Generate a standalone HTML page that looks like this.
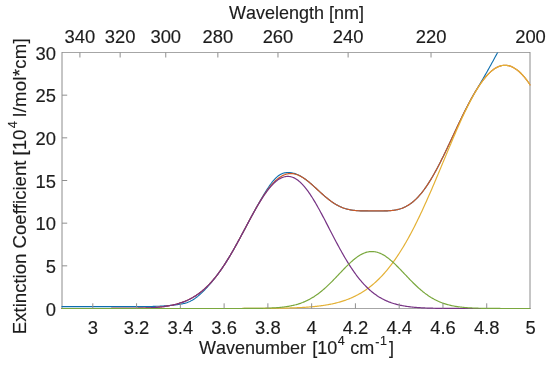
<!DOCTYPE html>
<html><head><meta charset="utf-8"><style>
html,body{margin:0;padding:0;background:#fff;}
svg{display:block;will-change:transform;}
text{font-family:"Liberation Sans",sans-serif;font-size:18px;fill:#1c1c1c;stroke:#1c1c1c;stroke-width:0.15px;font-kerning:none;font-variant-ligatures:none;}
.t text{font-size:18.4px;}
</style></head><body>
<svg width="550" height="365" viewBox="0 0 550 365">
<defs><clipPath id="c"><rect x="58.5" y="52.5" width="472.0" height="259.0"/></clipPath></defs>
<rect x="0" y="0" width="550" height="365" fill="#fff"/>
<path d="M62,52.5H530M62,308.5H530" stroke="#a6a6a6" stroke-width="1" fill="none"/><path d="M62,52.0V309.0M530,52.0V309.0" stroke="#8c8c8c" stroke-width="1" fill="none"/>
<g fill="none" stroke-width="1.2" stroke-linejoin="round" clip-path="url(#c)">
<polyline points="61.50,306.62 62.28,306.62 63.07,306.62 63.85,306.62 64.63,306.62 65.41,306.62 66.20,306.62 66.98,306.62 67.76,306.62 68.55,306.62 69.33,306.62 70.11,306.62 70.90,306.62 71.68,306.62 72.46,306.62 73.24,306.62 74.03,306.62 74.81,306.62 75.59,306.62 76.38,306.62 77.16,306.62 77.94,306.62 78.73,306.62 79.51,306.62 80.29,306.62 81.07,306.62 81.86,306.62 82.64,306.62 83.42,306.62 84.21,306.62 84.99,306.62 85.77,306.62 86.56,306.62 87.34,306.62 88.12,306.62 88.90,306.62 89.69,306.62 90.47,306.62 91.25,306.62 92.04,306.62 92.82,306.62 93.60,306.62 94.38,306.62 95.17,306.62 95.95,306.62 96.73,306.62 97.52,306.62 98.30,306.62 99.08,306.62 99.87,306.62 100.65,306.62 101.43,306.62 102.21,306.62 103.00,306.62 103.78,306.62 104.56,306.62 105.35,306.62 106.13,306.62 106.91,306.62 107.70,306.62 108.48,306.62 109.26,306.62 110.04,306.62 110.83,306.62 111.61,306.62 112.39,306.62 113.18,306.62 113.96,306.62 114.74,306.62 115.53,306.62 116.31,306.62 117.09,306.62 117.87,306.62 118.66,306.62 119.44,306.62 120.22,306.62 121.01,306.62 121.79,306.62 122.57,306.62 123.35,306.62 124.14,306.62 124.92,306.62 125.70,306.62 126.49,306.62 127.27,306.62 128.05,306.62 128.84,306.62 129.62,306.62 130.40,306.62 131.18,306.62 131.97,306.62 132.75,306.61 133.53,306.61 134.32,306.61 135.10,306.61 135.88,306.61 136.67,306.61 137.45,306.60 138.23,306.60 139.01,306.60 139.80,306.60 140.58,306.59 141.36,306.59 142.15,306.58 142.93,306.58 143.71,306.57 144.49,306.57 145.28,306.56 146.06,306.55 146.84,306.54 147.63,306.53 148.41,306.52 149.19,306.51 149.98,306.49 150.76,306.48 151.54,306.46 152.32,306.44 153.11,306.42 153.89,306.40 154.67,306.38 155.46,306.35 156.24,306.32 157.02,306.29 157.81,306.26 158.59,306.22 159.37,306.19 160.15,306.15 160.94,306.10 161.72,306.06 162.50,306.01 163.29,305.96 164.07,305.90 164.85,305.85 165.64,305.79 166.42,305.73 167.20,305.67 167.98,305.60 168.77,305.54 169.55,305.47 170.33,305.40 171.12,305.33 171.90,305.25 172.68,305.18 173.46,305.10 174.25,305.02 175.03,304.93 175.81,304.85 176.60,304.76 177.38,304.66 178.16,304.56 178.95,304.45 179.73,304.33 180.51,304.20 181.29,304.06 182.08,303.91 182.86,303.75 183.64,303.57 184.43,303.37 185.21,303.15 185.99,302.92 186.78,302.66 187.56,302.38 188.34,302.07 189.12,301.75 189.91,301.39 190.69,301.01 191.47,300.60 192.26,300.16 193.04,299.70 193.82,299.20 194.61,298.68 195.39,298.14 196.17,297.56 196.95,296.96 197.74,296.34 198.52,295.69 199.30,295.02 200.09,294.32 200.87,293.61 201.65,292.88 202.43,292.12 203.22,291.35 204.00,290.56 204.78,289.76 205.57,288.94 206.35,288.11 207.13,287.26 207.92,286.39 208.70,285.51 209.48,284.62 210.26,283.72 211.05,282.80 211.83,281.86 212.61,280.91 213.40,279.95 214.18,278.98 214.96,277.98 215.75,276.98 216.53,275.95 217.31,274.91 218.09,273.86 218.88,272.79 219.66,271.70 220.44,270.59 221.23,269.47 222.01,268.33 222.79,267.18 223.58,266.00 224.36,264.81 225.14,263.61 225.92,262.38 226.71,261.14 227.49,259.89 228.27,258.61 229.06,257.33 229.84,256.02 230.62,254.70 231.40,253.37 232.19,252.03 232.97,250.67 233.75,249.29 234.54,247.91 235.32,246.51 236.10,245.11 236.89,243.69 237.67,242.26 238.45,240.83 239.23,239.39 240.02,237.94 240.80,236.48 241.58,235.02 242.37,233.55 243.15,232.08 243.93,230.61 244.72,229.13 245.50,227.65 246.28,226.18 247.06,224.70 247.85,223.23 248.63,221.75 249.41,220.29 250.20,218.82 250.98,217.36 251.76,215.91 252.55,214.46 253.33,213.02 254.11,211.58 254.89,210.16 255.68,208.74 256.46,207.33 257.24,205.94 258.03,204.55 258.81,203.17 259.59,201.80 260.37,200.45 261.16,199.10 261.94,197.77 262.72,196.45 263.51,195.14 264.29,193.85 265.07,192.58 265.86,191.32 266.64,190.08 267.42,188.87 268.20,187.68 268.99,186.52 269.77,185.38 270.55,184.28 271.34,183.22 272.12,182.20 272.90,181.22 273.69,180.28 274.47,179.40 275.25,178.56 276.03,177.78 276.82,177.06 277.60,176.39 278.38,175.77 279.17,175.22 279.95,174.72 280.73,174.27 281.52,173.89 282.30,173.55 283.08,173.26 283.86,173.03 284.65,172.84 285.43,172.69 286.21,172.58 287.00,172.51 287.78,172.48 288.56,172.48 289.34,172.52 290.13,172.58 290.91,172.68 291.69,172.81 292.48,172.97 293.26,173.16 294.04,173.37 294.83,173.61 295.61,173.88 296.39,174.17 297.17,174.48 297.96,174.83 298.74,175.19 299.52,175.59 300.31,176.00 301.09,176.45 301.87,176.91 302.66,177.40 303.44,177.91 304.22,178.44 305.00,178.99 305.79,179.56 306.57,180.15 307.35,180.76 308.14,181.38 308.92,182.02 309.70,182.67 310.48,183.34 311.27,184.02 312.05,184.71 312.83,185.40 313.62,186.11 314.40,186.82 315.18,187.54 315.97,188.26 316.75,188.98 317.53,189.70 318.31,190.42 319.10,191.15 319.88,191.87 320.66,192.58 321.45,193.29 322.23,194.00 323.01,194.70 323.80,195.38 324.58,196.07 325.36,196.74 326.14,197.40 326.93,198.04 327.71,198.68 328.49,199.30 329.28,199.91 330.06,200.50 330.84,201.08 331.63,201.64 332.41,202.18 333.19,202.71 333.97,203.22 334.76,203.72 335.54,204.19 336.32,204.65 337.11,205.09 337.89,205.51 338.67,205.91 339.45,206.29 340.24,206.66 341.02,207.01 341.80,207.34 342.59,207.65 343.37,207.94 344.15,208.21 344.94,208.47 345.72,208.71 346.50,208.94 347.28,209.15 348.07,209.34 348.85,209.52 349.63,209.69 350.42,209.84 351.20,209.98 351.98,210.10 352.77,210.22 353.55,210.32 354.33,210.41 355.11,210.49 355.90,210.56 356.68,210.62 357.46,210.68 358.25,210.73 359.03,210.77 359.81,210.80 360.60,210.83 361.38,210.85 362.16,210.87 362.94,210.89 363.73,210.90 364.51,210.91 365.29,210.91 366.08,210.92 366.86,210.92 367.64,210.92 368.42,210.93 369.21,210.93 369.99,210.93 370.77,210.93 371.56,210.93 372.34,210.93 373.12,210.93 373.91,210.93 374.69,210.93 375.47,210.93 376.25,210.94 377.04,210.94 377.82,210.94 378.60,210.94 379.39,210.94 380.17,210.94 380.95,210.94 381.74,210.94 382.52,210.93 383.30,210.93 384.08,210.92 384.87,210.90 385.65,210.88 386.43,210.86 387.22,210.83 388.00,210.79 388.78,210.75 389.57,210.70 390.35,210.64 391.13,210.57 391.91,210.49 392.70,210.40 393.48,210.30 394.26,210.19 395.05,210.06 395.83,209.92 396.61,209.77 397.39,209.59 398.18,209.41 398.96,209.20 399.74,208.98 400.53,208.74 401.31,208.47 402.09,208.19 402.88,207.89 403.66,207.56 404.44,207.21 405.22,206.84 406.01,206.44 406.79,206.02 407.57,205.58 408.36,205.11 409.14,204.61 409.92,204.09 410.71,203.53 411.49,202.95 412.27,202.35 413.05,201.71 413.84,201.05 414.62,200.35 415.40,199.63 416.19,198.88 416.97,198.10 417.75,197.29 418.54,196.45 419.32,195.58 420.10,194.68 420.88,193.75 421.67,192.79 422.45,191.81 423.23,190.79 424.02,189.75 424.80,188.67 425.58,187.57 426.36,186.44 427.15,185.28 427.93,184.10 428.71,182.89 429.50,181.65 430.28,180.39 431.06,179.10 431.85,177.79 432.63,176.45 433.41,175.09 434.19,173.71 434.98,172.30 435.76,170.88 436.54,169.43 437.33,167.97 438.11,166.48 438.89,164.98 439.68,163.46 440.46,161.92 441.24,160.37 442.02,158.81 442.81,157.23 443.59,155.64 444.37,154.03 445.16,152.42 445.94,150.79 446.72,149.16 447.51,147.51 448.29,145.86 449.07,144.21 449.85,142.55 450.64,140.88 451.42,139.21 452.20,137.54 452.99,135.87 453.77,134.20 454.55,132.53 455.33,130.86 456.12,129.19 456.90,127.53 457.68,125.87 458.47,124.21 459.25,122.57 460.03,120.93 460.82,119.29 461.60,117.67 462.38,116.06 463.16,114.46 463.95,112.87 464.73,111.30 465.51,109.73 466.30,108.19 467.08,106.66 467.86,105.14 468.65,103.65 469.43,102.17 470.21,100.71 470.99,99.27 471.78,97.85 472.56,96.45 473.34,95.07 474.13,93.72 474.91,92.39 475.69,91.09 476.47,89.80 477.26,88.50 478.04,87.20 478.82,85.88 479.61,84.56 480.39,83.24 481.17,81.90 481.96,80.56 482.74,79.22 483.52,77.87 484.30,76.51 485.09,75.14 485.87,73.77 486.65,72.40 487.44,71.01 488.22,69.62 489.00,68.23 489.79,66.83 490.57,65.42 491.35,64.00 492.13,62.58 492.92,61.15 493.70,59.72 494.48,58.28 495.27,56.83 496.05,55.38 496.83,53.92 497.62,52.46 498.40,50.98 499.18,49.51 499.96,48.02 500.75,46.53 501.53,45.03 502.31,43.53 503.10,42.02 503.88,40.50 504.66,38.98 505.44,37.45 506.23,35.92 507.01,34.37 507.79,32.83 508.58,31.27 509.36,29.71 510.14,28.14 510.93,26.57 511.71,24.99 512.49,23.41 513.27,21.81 514.06,20.21 514.84,18.61 515.62,17.00 516.41,15.38 517.19,13.76 517.97,12.13 518.76,10.49 519.54,8.85 520.32,7.20 521.10,5.54 521.89,3.88 522.67,2.21 523.45,0.54 524.24,-1.14 525.02,-2.83 525.80,-4.53 526.59,-6.23 527.37,-7.93 528.15,-9.64 528.93,-11.36 529.72,-13.09 530.50,-14.82" stroke="#0d6eae" stroke-width="1.1"/>
<polyline points="61.50,308.50 62.28,308.50 63.07,308.50 63.85,308.50 64.63,308.50 65.41,308.50 66.20,308.50 66.98,308.50 67.76,308.50 68.55,308.50 69.33,308.50 70.11,308.50 70.90,308.50 71.68,308.50 72.46,308.50 73.24,308.50 74.03,308.50 74.81,308.50 75.59,308.50 76.38,308.50 77.16,308.50 77.94,308.50 78.73,308.50 79.51,308.50 80.29,308.50 81.07,308.50 81.86,308.50 82.64,308.50 83.42,308.50 84.21,308.50 84.99,308.50 85.77,308.50 86.56,308.50 87.34,308.50 88.12,308.50 88.90,308.50 89.69,308.50 90.47,308.50 91.25,308.50 92.04,308.50 92.82,308.50 93.60,308.50 94.38,308.50 95.17,308.50 95.95,308.49 96.73,308.49 97.52,308.49 98.30,308.49 99.08,308.49 99.87,308.49 100.65,308.49 101.43,308.49 102.21,308.49 103.00,308.49 103.78,308.49 104.56,308.49 105.35,308.49 106.13,308.48 106.91,308.48 107.70,308.48 108.48,308.48 109.26,308.48 110.04,308.48 110.83,308.48 111.61,308.47 112.39,308.47 113.18,308.47 113.96,308.47 114.74,308.47 115.53,308.46 116.31,308.46 117.09,308.46 117.87,308.45 118.66,308.45 119.44,308.45 120.22,308.44 121.01,308.44 121.79,308.43 122.57,308.43 123.35,308.42 124.14,308.42 124.92,308.41 125.70,308.40 126.49,308.40 127.27,308.39 128.05,308.38 128.84,308.37 129.62,308.36 130.40,308.36 131.18,308.34 131.97,308.33 132.75,308.32 133.53,308.31 134.32,308.30 135.10,308.28 135.88,308.27 136.67,308.25 137.45,308.24 138.23,308.22 139.01,308.20 139.80,308.18 140.58,308.16 141.36,308.14 142.15,308.11 142.93,308.09 143.71,308.06 144.49,308.03 145.28,308.01 146.06,307.97 146.84,307.94 147.63,307.91 148.41,307.87 149.19,307.83 149.98,307.79 150.76,307.75 151.54,307.70 152.32,307.65 153.11,307.60 153.89,307.55 154.67,307.49 155.46,307.43 156.24,307.37 157.02,307.30 157.81,307.23 158.59,307.16 159.37,307.09 160.15,307.01 160.94,306.92 161.72,306.83 162.50,306.74 163.29,306.64 164.07,306.54 164.85,306.43 165.64,306.32 166.42,306.20 167.20,306.08 167.98,305.95 168.77,305.82 169.55,305.68 170.33,305.53 171.12,305.38 171.90,305.22 172.68,305.05 173.46,304.88 174.25,304.69 175.03,304.50 175.81,304.30 176.60,304.10 177.38,303.88 178.16,303.66 178.95,303.43 179.73,303.18 180.51,302.93 181.29,302.67 182.08,302.39 182.86,302.11 183.64,301.82 184.43,301.51 185.21,301.19 185.99,300.87 186.78,300.53 187.56,300.17 188.34,299.81 189.12,299.43 189.91,299.03 190.69,298.63 191.47,298.21 192.26,297.77 193.04,297.33 193.82,296.86 194.61,296.38 195.39,295.89 196.17,295.38 196.95,294.85 197.74,294.31 198.52,293.75 199.30,293.18 200.09,292.58 200.87,291.97 201.65,291.35 202.43,290.70 203.22,290.04 204.00,289.35 204.78,288.65 205.57,287.93 206.35,287.20 207.13,286.44 207.92,285.66 208.70,284.87 209.48,284.05 210.26,283.22 211.05,282.36 211.83,281.49 212.61,280.60 213.40,279.68 214.18,278.75 214.96,277.79 215.75,276.82 216.53,275.83 217.31,274.81 218.09,273.78 218.88,272.73 219.66,271.66 220.44,270.57 221.23,269.46 222.01,268.33 222.79,267.18 223.58,266.01 224.36,264.83 225.14,263.62 225.92,262.40 226.71,261.17 227.49,259.91 228.27,258.64 229.06,257.35 229.84,256.05 230.62,254.73 231.40,253.40 232.19,252.05 232.97,250.69 233.75,249.32 234.54,247.94 235.32,246.54 236.10,245.13 236.89,243.72 237.67,242.29 238.45,240.85 239.23,239.41 240.02,237.96 240.80,236.50 241.58,235.04 242.37,233.57 243.15,232.10 243.93,230.63 244.72,229.16 245.50,227.68 246.28,226.20 247.06,224.73 247.85,223.26 248.63,221.79 249.41,220.32 250.20,218.86 250.98,217.40 251.76,215.96 252.55,214.52 253.33,213.09 254.11,211.67 254.89,210.26 255.68,208.87 256.46,207.49 257.24,206.12 258.03,204.77 258.81,203.43 259.59,202.12 260.37,200.82 261.16,199.54 261.94,198.29 262.72,197.05 263.51,195.84 264.29,194.65 265.07,193.49 265.86,192.36 266.64,191.25 267.42,190.16 268.20,189.11 268.99,188.09 269.77,187.09 270.55,186.13 271.34,185.20 272.12,184.30 272.90,183.43 273.69,182.60 274.47,181.80 275.25,181.04 276.03,180.31 276.82,179.62 277.60,178.96 278.38,178.34 279.17,177.76 279.95,177.21 280.73,176.70 281.52,176.23 282.30,175.80 283.08,175.40 283.86,175.04 284.65,174.72 285.43,174.44 286.21,174.19 287.00,173.99 287.78,173.82 288.56,173.68 289.34,173.59 290.13,173.54 290.91,173.52 291.69,173.54 292.48,173.60 293.26,173.70 294.04,173.83 294.83,174.00 295.61,174.21 296.39,174.44 297.17,174.71 297.96,175.02 298.74,175.35 299.52,175.72 300.31,176.11 301.09,176.53 301.87,176.98 302.66,177.46 303.44,177.95 304.22,178.48 305.00,179.02 305.79,179.59 306.57,180.18 307.35,180.78 308.14,181.40 308.92,182.04 309.70,182.69 310.48,183.36 311.27,184.03 312.05,184.72 312.83,185.42 313.62,186.12 314.40,186.83 315.18,187.55 315.97,188.27 316.75,188.99 317.53,189.72 318.31,190.44 319.10,191.16 319.88,191.88 320.66,192.60 321.45,193.31 322.23,194.01 323.01,194.71 323.80,195.40 324.58,196.08 325.36,196.75 326.14,197.41 326.93,198.06 327.71,198.69 328.49,199.32 329.28,199.92 330.06,200.52 330.84,201.09 331.63,201.66 332.41,202.20 333.19,202.73 333.97,203.24 334.76,203.73 335.54,204.21 336.32,204.67 337.11,205.11 337.89,205.53 338.67,205.93 339.45,206.31 340.24,206.68 341.02,207.02 341.80,207.35 342.59,207.66 343.37,207.96 344.15,208.23 344.94,208.49 345.72,208.73 346.50,208.96 347.28,209.17 348.07,209.36 348.85,209.54 349.63,209.71 350.42,209.86 351.20,210.00 351.98,210.12 352.77,210.23 353.55,210.34 354.33,210.43 355.11,210.51 355.90,210.58 356.68,210.64 357.46,210.70 358.25,210.74 359.03,210.78 359.81,210.82 360.60,210.85 361.38,210.87 362.16,210.89 362.94,210.91 363.73,210.92 364.51,210.93 365.29,210.93 366.08,210.94 366.86,210.94 367.64,210.94 368.42,210.94 369.21,210.94 369.99,210.94 370.77,210.94 371.56,210.95 372.34,210.95 373.12,210.95 373.91,210.95 374.69,210.95 375.47,210.95 376.25,210.95 377.04,210.96 377.82,210.96 378.60,210.96 379.39,210.96 380.17,210.96 380.95,210.96 381.74,210.96 382.52,210.95 383.30,210.94 384.08,210.93 384.87,210.92 385.65,210.90 386.43,210.88 387.22,210.85 388.00,210.81 388.78,210.77 389.57,210.72 390.35,210.66 391.13,210.59 391.91,210.51 392.70,210.42 393.48,210.32 394.26,210.21 395.05,210.08 395.83,209.94 396.61,209.78 397.39,209.61 398.18,209.42 398.96,209.22 399.74,209.00 400.53,208.75 401.31,208.49 402.09,208.21 402.88,207.90 403.66,207.58 404.44,207.23 405.22,206.86 406.01,206.46 406.79,206.04 407.57,205.60 408.36,205.12 409.14,204.63 409.92,204.10 410.71,203.55 411.49,202.97 412.27,202.36 413.05,201.73 413.84,201.06 414.62,200.37 415.40,199.65 416.19,198.90 416.97,198.12 417.75,197.31 418.54,196.47 419.32,195.60 420.10,194.70 420.88,193.77 421.67,192.81 422.45,191.82 423.23,190.81 424.02,189.76 424.80,188.69 425.58,187.58 426.36,186.45 427.15,185.30 427.93,184.11 428.71,182.90 429.50,181.66 430.28,180.40 431.06,179.11 431.85,177.80 432.63,176.46 433.41,175.10 434.19,173.72 434.98,172.32 435.76,170.89 436.54,169.44 437.33,167.98 438.11,166.49 438.89,164.99 439.68,163.47 440.46,161.94 441.24,160.39 442.02,158.82 442.81,157.24 443.59,155.65 444.37,154.04 445.16,152.43 445.94,150.80 446.72,149.17 447.51,147.52 448.29,145.88 449.07,144.22 449.85,142.56 450.64,140.89 451.42,139.22 452.20,137.55 452.99,135.88 453.77,134.21 454.55,132.54 455.33,130.87 456.12,129.20 456.90,127.54 457.68,125.88 458.47,124.22 459.25,122.57 460.03,120.93 460.82,119.30 461.60,117.68 462.38,116.07 463.16,114.47 463.95,112.88 464.73,111.30 465.51,109.74 466.30,108.20 467.08,106.67 467.86,105.15 468.65,103.65 469.43,102.17 470.21,100.72 470.99,99.28 471.78,97.86 472.56,96.46 473.34,95.08 474.13,93.73 474.91,92.40 475.69,91.10 476.47,89.82 477.26,88.57 478.04,87.34 478.82,86.14 479.61,84.97 480.39,83.83 481.17,82.72 481.96,81.63 482.74,80.58 483.52,79.56 484.30,78.57 485.09,77.61 485.87,76.68 486.65,75.79 487.44,74.93 488.22,74.11 489.00,73.32 489.79,72.56 490.57,71.84 491.35,71.16 492.13,70.51 492.92,69.90 493.70,69.33 494.48,68.79 495.27,68.29 496.05,67.83 496.83,67.40 497.62,67.02 498.40,66.67 499.18,66.36 499.96,66.09 500.75,65.86 501.53,65.67 502.31,65.51 503.10,65.40 503.88,65.32 504.66,65.29 505.44,65.29 506.23,65.33 507.01,65.42 507.79,65.54 508.58,65.70 509.36,65.90 510.14,66.14 510.93,66.42 511.71,66.74 512.49,67.10 513.27,67.49 514.06,67.92 514.84,68.40 515.62,68.91 516.41,69.45 517.19,70.04 517.97,70.66 518.76,71.32 519.54,72.01 520.32,72.75 521.10,73.51 521.89,74.32 522.67,75.16 523.45,76.03 524.24,76.94 525.02,77.88 525.80,78.85 526.59,79.86 527.37,80.90 528.15,81.98 528.93,83.08 529.72,84.22 530.50,85.38" stroke="#ca5827"/>
<polyline points="61.50,308.50 62.28,308.50 63.07,308.50 63.85,308.50 64.63,308.50 65.41,308.50 66.20,308.50 66.98,308.50 67.76,308.50 68.55,308.50 69.33,308.50 70.11,308.50 70.90,308.50 71.68,308.50 72.46,308.50 73.24,308.50 74.03,308.50 74.81,308.50 75.59,308.50 76.38,308.50 77.16,308.50 77.94,308.50 78.73,308.50 79.51,308.50 80.29,308.50 81.07,308.50 81.86,308.50 82.64,308.50 83.42,308.50 84.21,308.50 84.99,308.50 85.77,308.50 86.56,308.50 87.34,308.50 88.12,308.50 88.90,308.50 89.69,308.50 90.47,308.50 91.25,308.50 92.04,308.50 92.82,308.50 93.60,308.50 94.38,308.50 95.17,308.50 95.95,308.50 96.73,308.50 97.52,308.50 98.30,308.50 99.08,308.50 99.87,308.50 100.65,308.50 101.43,308.50 102.21,308.50 103.00,308.50 103.78,308.50 104.56,308.50 105.35,308.50 106.13,308.50 106.91,308.50 107.70,308.50 108.48,308.50 109.26,308.50 110.04,308.50 110.83,308.50 111.61,308.50 112.39,308.50 113.18,308.50 113.96,308.50 114.74,308.50 115.53,308.50 116.31,308.50 117.09,308.50 117.87,308.50 118.66,308.50 119.44,308.50 120.22,308.50 121.01,308.50 121.79,308.50 122.57,308.50 123.35,308.50 124.14,308.50 124.92,308.50 125.70,308.50 126.49,308.50 127.27,308.50 128.05,308.50 128.84,308.50 129.62,308.50 130.40,308.50 131.18,308.50 131.97,308.50 132.75,308.50 133.53,308.50 134.32,308.50 135.10,308.50 135.88,308.50 136.67,308.50 137.45,308.50 138.23,308.50 139.01,308.50 139.80,308.50 140.58,308.50 141.36,308.50 142.15,308.50 142.93,308.50 143.71,308.50 144.49,308.50 145.28,308.50 146.06,308.50 146.84,308.50 147.63,308.50 148.41,308.50 149.19,308.50 149.98,308.50 150.76,308.50 151.54,308.50 152.32,308.50 153.11,308.50 153.89,308.50 154.67,308.50 155.46,308.50 156.24,308.50 157.02,308.50 157.81,308.50 158.59,308.50 159.37,308.50 160.15,308.50 160.94,308.50 161.72,308.50 162.50,308.50 163.29,308.50 164.07,308.50 164.85,308.50 165.64,308.50 166.42,308.50 167.20,308.50 167.98,308.50 168.77,308.50 169.55,308.50 170.33,308.50 171.12,308.50 171.90,308.50 172.68,308.50 173.46,308.50 174.25,308.50 175.03,308.50 175.81,308.50 176.60,308.50 177.38,308.50 178.16,308.50 178.95,308.50 179.73,308.50 180.51,308.50 181.29,308.50 182.08,308.50 182.86,308.50 183.64,308.50 184.43,308.50 185.21,308.50 185.99,308.50 186.78,308.50 187.56,308.50 188.34,308.50 189.12,308.50 189.91,308.50 190.69,308.50 191.47,308.50 192.26,308.50 193.04,308.50 193.82,308.50 194.61,308.50 195.39,308.50 196.17,308.50 196.95,308.50 197.74,308.50 198.52,308.50 199.30,308.50 200.09,308.50 200.87,308.50 201.65,308.50 202.43,308.50 203.22,308.50 204.00,308.50 204.78,308.50 205.57,308.50 206.35,308.50 207.13,308.50 207.92,308.50 208.70,308.50 209.48,308.50 210.26,308.50 211.05,308.50 211.83,308.50 212.61,308.50 213.40,308.50 214.18,308.50 214.96,308.50 215.75,308.50 216.53,308.50 217.31,308.50 218.09,308.50 218.88,308.50 219.66,308.50 220.44,308.49 221.23,308.49 222.01,308.49 222.79,308.49 223.58,308.49 224.36,308.49 225.14,308.49 225.92,308.49 226.71,308.49 227.49,308.49 228.27,308.49 229.06,308.49 229.84,308.49 230.62,308.49 231.40,308.49 232.19,308.49 232.97,308.49 233.75,308.49 234.54,308.49 235.32,308.48 236.10,308.48 236.89,308.48 237.67,308.48 238.45,308.48 239.23,308.48 240.02,308.48 240.80,308.48 241.58,308.48 242.37,308.47 243.15,308.47 243.93,308.47 244.72,308.47 245.50,308.47 246.28,308.47 247.06,308.46 247.85,308.46 248.63,308.46 249.41,308.46 250.20,308.46 250.98,308.45 251.76,308.45 252.55,308.45 253.33,308.45 254.11,308.44 254.89,308.44 255.68,308.44 256.46,308.43 257.24,308.43 258.03,308.43 258.81,308.42 259.59,308.42 260.37,308.41 261.16,308.41 261.94,308.40 262.72,308.40 263.51,308.39 264.29,308.39 265.07,308.38 265.86,308.38 266.64,308.37 267.42,308.36 268.20,308.36 268.99,308.35 269.77,308.34 270.55,308.33 271.34,308.33 272.12,308.32 272.90,308.31 273.69,308.30 274.47,308.29 275.25,308.28 276.03,308.27 276.82,308.26 277.60,308.24 278.38,308.23 279.17,308.22 279.95,308.21 280.73,308.19 281.52,308.18 282.30,308.16 283.08,308.15 283.86,308.13 284.65,308.11 285.43,308.09 286.21,308.07 287.00,308.05 287.78,308.03 288.56,308.01 289.34,307.99 290.13,307.97 290.91,307.94 291.69,307.92 292.48,307.89 293.26,307.86 294.04,307.83 294.83,307.80 295.61,307.77 296.39,307.74 297.17,307.71 297.96,307.67 298.74,307.64 299.52,307.60 300.31,307.56 301.09,307.52 301.87,307.48 302.66,307.43 303.44,307.39 304.22,307.34 305.00,307.29 305.79,307.24 306.57,307.19 307.35,307.13 308.14,307.07 308.92,307.01 309.70,306.95 310.48,306.89 311.27,306.82 312.05,306.75 312.83,306.68 313.62,306.61 314.40,306.53 315.18,306.45 315.97,306.37 316.75,306.29 317.53,306.20 318.31,306.11 319.10,306.01 319.88,305.91 320.66,305.81 321.45,305.71 322.23,305.60 323.01,305.49 323.80,305.37 324.58,305.25 325.36,305.13 326.14,305.00 326.93,304.87 327.71,304.73 328.49,304.59 329.28,304.45 330.06,304.30 330.84,304.14 331.63,303.98 332.41,303.82 333.19,303.64 333.97,303.47 334.76,303.29 335.54,303.10 336.32,302.91 337.11,302.71 337.89,302.50 338.67,302.29 339.45,302.07 340.24,301.85 341.02,301.62 341.80,301.38 342.59,301.14 343.37,300.89 344.15,300.63 344.94,300.36 345.72,300.09 346.50,299.80 347.28,299.51 348.07,299.21 348.85,298.91 349.63,298.59 350.42,298.27 351.20,297.94 351.98,297.59 352.77,297.24 353.55,296.88 354.33,296.51 355.11,296.13 355.90,295.74 356.68,295.34 357.46,294.93 358.25,294.51 359.03,294.08 359.81,293.64 360.60,293.18 361.38,292.72 362.16,292.24 362.94,291.75 363.73,291.25 364.51,290.74 365.29,290.22 366.08,289.68 366.86,289.13 367.64,288.57 368.42,287.99 369.21,287.41 369.99,286.81 370.77,286.19 371.56,285.56 372.34,284.92 373.12,284.26 373.91,283.59 374.69,282.91 375.47,282.21 376.25,281.49 377.04,280.76 377.82,280.02 378.60,279.26 379.39,278.48 380.17,277.69 380.95,276.89 381.74,276.06 382.52,275.23 383.30,274.37 384.08,273.50 384.87,272.61 385.65,271.71 386.43,270.79 387.22,269.86 388.00,268.90 388.78,267.93 389.57,266.94 390.35,265.94 391.13,264.92 391.91,263.88 392.70,262.82 393.48,261.75 394.26,260.66 395.05,259.55 395.83,258.42 396.61,257.28 397.39,256.12 398.18,254.94 398.96,253.74 399.74,252.53 400.53,251.29 401.31,250.04 402.09,248.78 402.88,247.49 403.66,246.19 404.44,244.87 405.22,243.53 406.01,242.18 406.79,240.81 407.57,239.42 408.36,238.01 409.14,236.59 409.92,235.15 410.71,233.69 411.49,232.22 412.27,230.73 413.05,229.23 413.84,227.70 414.62,226.17 415.40,224.61 416.19,223.05 416.97,221.46 417.75,219.86 418.54,218.25 419.32,216.62 420.10,214.98 420.88,213.33 421.67,211.66 422.45,209.98 423.23,208.28 424.02,206.57 424.80,204.85 425.58,203.12 426.36,201.38 427.15,199.62 427.93,197.86 428.71,196.08 429.50,194.30 430.28,192.50 431.06,190.70 431.85,188.89 432.63,187.06 433.41,185.24 434.19,183.40 434.98,181.56 435.76,179.71 436.54,177.85 437.33,176.00 438.11,174.13 438.89,172.26 439.68,170.39 440.46,168.52 441.24,166.64 442.02,164.76 442.81,162.88 443.59,161.00 444.37,159.12 445.16,157.24 445.94,155.36 446.72,153.48 447.51,151.61 448.29,149.74 449.07,147.87 449.85,146.01 450.64,144.15 451.42,142.30 452.20,140.45 452.99,138.61 453.77,136.78 454.55,134.96 455.33,133.15 456.12,131.34 456.90,129.55 457.68,127.77 458.47,126.00 459.25,124.24 460.03,122.50 460.82,120.77 461.60,119.06 462.38,117.36 463.16,115.67 463.95,114.01 464.73,112.36 465.51,110.73 466.30,109.12 467.08,107.52 467.86,105.95 468.65,104.40 469.43,102.87 470.21,101.36 470.99,99.88 471.78,98.42 472.56,96.98 473.34,95.57 474.13,94.18 474.91,92.82 475.69,91.48 476.47,90.18 477.26,88.90 478.04,87.65 478.82,86.43 479.61,85.23 480.39,84.07 481.17,82.94 481.96,81.84 482.74,80.77 483.52,79.73 484.30,78.73 485.09,77.76 485.87,76.82 486.65,75.92 487.44,75.05 488.22,74.22 489.00,73.42 489.79,72.65 490.57,71.93 491.35,71.24 492.13,70.58 492.92,69.96 493.70,69.39 494.48,68.84 495.27,68.34 496.05,67.87 496.83,67.44 497.62,67.05 498.40,66.70 499.18,66.39 499.96,66.12 500.75,65.88 501.53,65.69 502.31,65.53 503.10,65.42 503.88,65.34 504.66,65.30 505.44,65.31 506.23,65.35 507.01,65.43 507.79,65.55 508.58,65.71 509.36,65.91 510.14,66.15 510.93,66.43 511.71,66.75 512.49,67.10 513.27,67.50 514.06,67.93 514.84,68.40 515.62,68.91 516.41,69.46 517.19,70.04 517.97,70.66 518.76,71.32 519.54,72.02 520.32,72.75 521.10,73.52 521.89,74.32 522.67,75.16 523.45,76.03 524.24,76.94 525.02,77.88 525.80,78.86 526.59,79.86 527.37,80.90 528.15,81.98 528.93,83.08 529.72,84.22 530.50,85.38" stroke="#e4b136"/>
<polyline points="61.50,308.50 62.28,308.50 63.07,308.50 63.85,308.50 64.63,308.50 65.41,308.50 66.20,308.50 66.98,308.50 67.76,308.50 68.55,308.50 69.33,308.50 70.11,308.50 70.90,308.50 71.68,308.50 72.46,308.50 73.24,308.50 74.03,308.50 74.81,308.50 75.59,308.50 76.38,308.50 77.16,308.50 77.94,308.50 78.73,308.50 79.51,308.50 80.29,308.50 81.07,308.50 81.86,308.50 82.64,308.50 83.42,308.50 84.21,308.50 84.99,308.50 85.77,308.50 86.56,308.50 87.34,308.50 88.12,308.50 88.90,308.50 89.69,308.50 90.47,308.50 91.25,308.50 92.04,308.50 92.82,308.50 93.60,308.50 94.38,308.50 95.17,308.50 95.95,308.49 96.73,308.49 97.52,308.49 98.30,308.49 99.08,308.49 99.87,308.49 100.65,308.49 101.43,308.49 102.21,308.49 103.00,308.49 103.78,308.49 104.56,308.49 105.35,308.49 106.13,308.48 106.91,308.48 107.70,308.48 108.48,308.48 109.26,308.48 110.04,308.48 110.83,308.48 111.61,308.47 112.39,308.47 113.18,308.47 113.96,308.47 114.74,308.47 115.53,308.46 116.31,308.46 117.09,308.46 117.87,308.45 118.66,308.45 119.44,308.45 120.22,308.44 121.01,308.44 121.79,308.43 122.57,308.43 123.35,308.42 124.14,308.42 124.92,308.41 125.70,308.40 126.49,308.40 127.27,308.39 128.05,308.38 128.84,308.37 129.62,308.36 130.40,308.36 131.18,308.34 131.97,308.33 132.75,308.32 133.53,308.31 134.32,308.30 135.10,308.28 135.88,308.27 136.67,308.25 137.45,308.24 138.23,308.22 139.01,308.20 139.80,308.18 140.58,308.16 141.36,308.14 142.15,308.11 142.93,308.09 143.71,308.06 144.49,308.03 145.28,308.01 146.06,307.97 146.84,307.94 147.63,307.91 148.41,307.87 149.19,307.83 149.98,307.79 150.76,307.75 151.54,307.70 152.32,307.65 153.11,307.60 153.89,307.55 154.67,307.49 155.46,307.43 156.24,307.37 157.02,307.30 157.81,307.23 158.59,307.16 159.37,307.09 160.15,307.01 160.94,306.92 161.72,306.83 162.50,306.74 163.29,306.64 164.07,306.54 164.85,306.43 165.64,306.32 166.42,306.20 167.20,306.08 167.98,305.95 168.77,305.82 169.55,305.68 170.33,305.53 171.12,305.38 171.90,305.22 172.68,305.05 173.46,304.88 174.25,304.69 175.03,304.50 175.81,304.30 176.60,304.10 177.38,303.88 178.16,303.66 178.95,303.43 179.73,303.18 180.51,302.93 181.29,302.67 182.08,302.40 182.86,302.11 183.64,301.82 184.43,301.51 185.21,301.20 185.99,300.87 186.78,300.53 187.56,300.17 188.34,299.81 189.12,299.43 189.91,299.03 190.69,298.63 191.47,298.21 192.26,297.77 193.04,297.33 193.82,296.86 194.61,296.38 195.39,295.89 196.17,295.38 196.95,294.85 197.74,294.31 198.52,293.75 199.30,293.18 200.09,292.58 200.87,291.97 201.65,291.35 202.43,290.70 203.22,290.04 204.00,289.36 204.78,288.66 205.57,287.94 206.35,287.20 207.13,286.44 207.92,285.67 208.70,284.87 209.48,284.05 210.26,283.22 211.05,282.37 211.83,281.49 212.61,280.60 213.40,279.69 214.18,278.75 214.96,277.80 215.75,276.83 216.53,275.83 217.31,274.82 218.09,273.79 218.88,272.73 219.66,271.66 220.44,270.57 221.23,269.46 222.01,268.33 222.79,267.19 223.58,266.02 224.36,264.84 225.14,263.63 225.92,262.41 226.71,261.18 227.49,259.92 228.27,258.65 229.06,257.37 229.84,256.07 230.62,254.75 231.40,253.42 232.19,252.07 232.97,250.72 233.75,249.34 234.54,247.96 235.32,246.57 236.10,245.16 236.89,243.75 237.67,242.32 238.45,240.89 239.23,239.45 240.02,238.00 240.80,236.55 241.58,235.09 242.37,233.62 243.15,232.16 243.93,230.69 244.72,229.22 245.50,227.75 246.28,226.27 247.06,224.80 247.85,223.34 248.63,221.87 249.41,220.41 250.20,218.96 250.98,217.51 251.76,216.08 252.55,214.65 253.33,213.23 254.11,211.82 254.89,210.42 255.68,209.04 256.46,207.67 257.24,206.32 258.03,204.98 258.81,203.66 259.59,202.36 260.37,201.08 261.16,199.82 261.94,198.59 262.72,197.38 263.51,196.19 264.29,195.03 265.07,193.89 265.86,192.78 266.64,191.71 267.42,190.66 268.20,189.64 268.99,188.65 269.77,187.70 270.55,186.77 271.34,185.89 272.12,185.04 272.90,184.22 273.69,183.44 274.47,182.70 275.25,182.00 276.03,181.33 276.82,180.71 277.60,180.13 278.38,179.58 279.17,179.08 279.95,178.62 280.73,178.20 281.52,177.83 282.30,177.50 283.08,177.21 283.86,176.96 284.65,176.76 285.43,176.61 286.21,176.49 287.00,176.43 287.78,176.40 288.56,176.43 289.34,176.50 290.13,176.61 290.91,176.78 291.69,176.99 292.48,177.25 293.26,177.55 294.04,177.90 294.83,178.30 295.61,178.74 296.39,179.23 297.17,179.76 297.96,180.34 298.74,180.96 299.52,181.62 300.31,182.32 301.09,183.06 301.87,183.85 302.66,184.67 303.44,185.53 304.22,186.43 305.00,187.37 305.79,188.34 306.57,189.35 307.35,190.39 308.14,191.47 308.92,192.57 309.70,193.71 310.48,194.88 311.27,196.07 312.05,197.29 312.83,198.54 313.62,199.82 314.40,201.11 315.18,202.43 315.97,203.78 316.75,205.14 317.53,206.52 318.31,207.92 319.10,209.33 319.88,210.76 320.66,212.20 321.45,213.66 322.23,215.13 323.01,216.61 323.80,218.09 324.58,219.59 325.36,221.09 326.14,222.60 326.93,224.11 327.71,225.62 328.49,227.14 329.28,228.66 330.06,230.17 330.84,231.69 331.63,233.20 332.41,234.71 333.19,236.22 333.97,237.72 334.76,239.21 335.54,240.70 336.32,242.18 337.11,243.65 337.89,245.11 338.67,246.56 339.45,248.00 340.24,249.42 341.02,250.83 341.80,252.23 342.59,253.62 343.37,254.99 344.15,256.34 344.94,257.68 345.72,259.00 346.50,260.31 347.28,261.60 348.07,262.86 348.85,264.12 349.63,265.35 350.42,266.56 351.20,267.75 351.98,268.93 352.77,270.08 353.55,271.21 354.33,272.33 355.11,273.42 355.90,274.49 356.68,275.54 357.46,276.57 358.25,277.58 359.03,278.57 359.81,279.53 360.60,280.48 361.38,281.40 362.16,282.31 362.94,283.19 363.73,284.05 364.51,284.89 365.29,285.71 366.08,286.51 366.86,287.29 367.64,288.04 368.42,288.78 369.21,289.50 369.99,290.20 370.77,290.88 371.56,291.54 372.34,292.18 373.12,292.80 373.91,293.41 374.69,293.99 375.47,294.56 376.25,295.11 377.04,295.65 377.82,296.17 378.60,296.67 379.39,297.15 380.17,297.62 380.95,298.07 381.74,298.51 382.52,298.93 383.30,299.34 384.08,299.73 384.87,300.11 385.65,300.48 386.43,300.83 387.22,301.17 388.00,301.50 388.78,301.82 389.57,302.12 390.35,302.41 391.13,302.69 391.91,302.96 392.70,303.22 393.48,303.47 394.26,303.71 395.05,303.94 395.83,304.16 396.61,304.37 397.39,304.57 398.18,304.76 398.96,304.95 399.74,305.12 400.53,305.29 401.31,305.45 402.09,305.61 402.88,305.76 403.66,305.90 404.44,306.03 405.22,306.16 406.01,306.29 406.79,306.40 407.57,306.51 408.36,306.62 409.14,306.72 409.92,306.82 410.71,306.91 411.49,307.00 412.27,307.08 413.05,307.16 413.84,307.23 414.62,307.31 415.40,307.37 416.19,307.44 416.97,307.50 417.75,307.56 418.54,307.61 419.32,307.66 420.10,307.71 420.88,307.76 421.67,307.80 422.45,307.84 423.23,307.88 424.02,307.92 424.80,307.96 425.58,307.99 426.36,308.02 427.15,308.05 427.93,308.08 428.71,308.10 429.50,308.13 430.28,308.15 431.06,308.17 431.85,308.19 432.63,308.21 433.41,308.23 434.19,308.25 434.98,308.27 435.76,308.28 436.54,308.30 437.33,308.31 438.11,308.32 438.89,308.33 439.68,308.35 440.46,308.36 441.24,308.37 442.02,308.37 442.81,308.38 443.59,308.39 444.37,308.40 445.16,308.41 445.94,308.41 446.72,308.42 447.51,308.42 448.29,308.43 449.07,308.43 449.85,308.44 450.64,308.44 451.42,308.45 452.20,308.45 452.99,308.45 453.77,308.46 454.55,308.46 455.33,308.46 456.12,308.47 456.90,308.47 457.68,308.47 458.47,308.47 459.25,308.48 460.03,308.48 460.82,308.48 461.60,308.48 462.38,308.48 463.16,308.48 463.95,308.48 464.73,308.49 465.51,308.49 466.30,308.49 467.08,308.49 467.86,308.49 468.65,308.49 469.43,308.49 470.21,308.49 470.99,308.49 471.78,308.49 472.56,308.49 473.34,308.49 474.13,308.49 474.91,308.50 475.69,308.50 476.47,308.50 477.26,308.50 478.04,308.50 478.82,308.50 479.61,308.50 480.39,308.50 481.17,308.50 481.96,308.50 482.74,308.50 483.52,308.50 484.30,308.50 485.09,308.50 485.87,308.50 486.65,308.50 487.44,308.50 488.22,308.50 489.00,308.50 489.79,308.50 490.57,308.50 491.35,308.50 492.13,308.50 492.92,308.50 493.70,308.50 494.48,308.50 495.27,308.50 496.05,308.50 496.83,308.50 497.62,308.50 498.40,308.50 499.18,308.50 499.96,308.50 500.75,308.50 501.53,308.50 502.31,308.50 503.10,308.50 503.88,308.50 504.66,308.50 505.44,308.50 506.23,308.50 507.01,308.50 507.79,308.50 508.58,308.50 509.36,308.50 510.14,308.50 510.93,308.50 511.71,308.50 512.49,308.50 513.27,308.50 514.06,308.50 514.84,308.50 515.62,308.50 516.41,308.50 517.19,308.50 517.97,308.50 518.76,308.50 519.54,308.50 520.32,308.50 521.10,308.50 521.89,308.50 522.67,308.50 523.45,308.50 524.24,308.50 525.02,308.50 525.80,308.50 526.59,308.50 527.37,308.50 528.15,308.50 528.93,308.50 529.72,308.50 530.50,308.50" stroke="#773485"/>
<polyline points="61.50,308.50 62.28,308.50 63.07,308.50 63.85,308.50 64.63,308.50 65.41,308.50 66.20,308.50 66.98,308.50 67.76,308.50 68.55,308.50 69.33,308.50 70.11,308.50 70.90,308.50 71.68,308.50 72.46,308.50 73.24,308.50 74.03,308.50 74.81,308.50 75.59,308.50 76.38,308.50 77.16,308.50 77.94,308.50 78.73,308.50 79.51,308.50 80.29,308.50 81.07,308.50 81.86,308.50 82.64,308.50 83.42,308.50 84.21,308.50 84.99,308.50 85.77,308.50 86.56,308.50 87.34,308.50 88.12,308.50 88.90,308.50 89.69,308.50 90.47,308.50 91.25,308.50 92.04,308.50 92.82,308.50 93.60,308.50 94.38,308.50 95.17,308.50 95.95,308.50 96.73,308.50 97.52,308.50 98.30,308.50 99.08,308.50 99.87,308.50 100.65,308.50 101.43,308.50 102.21,308.50 103.00,308.50 103.78,308.50 104.56,308.50 105.35,308.50 106.13,308.50 106.91,308.50 107.70,308.50 108.48,308.50 109.26,308.50 110.04,308.50 110.83,308.50 111.61,308.50 112.39,308.50 113.18,308.50 113.96,308.50 114.74,308.50 115.53,308.50 116.31,308.50 117.09,308.50 117.87,308.50 118.66,308.50 119.44,308.50 120.22,308.50 121.01,308.50 121.79,308.50 122.57,308.50 123.35,308.50 124.14,308.50 124.92,308.50 125.70,308.50 126.49,308.50 127.27,308.50 128.05,308.50 128.84,308.50 129.62,308.50 130.40,308.50 131.18,308.50 131.97,308.50 132.75,308.50 133.53,308.50 134.32,308.50 135.10,308.50 135.88,308.50 136.67,308.50 137.45,308.50 138.23,308.50 139.01,308.50 139.80,308.50 140.58,308.50 141.36,308.50 142.15,308.50 142.93,308.50 143.71,308.50 144.49,308.50 145.28,308.50 146.06,308.50 146.84,308.50 147.63,308.50 148.41,308.50 149.19,308.50 149.98,308.50 150.76,308.50 151.54,308.50 152.32,308.50 153.11,308.50 153.89,308.50 154.67,308.50 155.46,308.50 156.24,308.50 157.02,308.50 157.81,308.50 158.59,308.50 159.37,308.50 160.15,308.50 160.94,308.50 161.72,308.50 162.50,308.50 163.29,308.50 164.07,308.50 164.85,308.50 165.64,308.50 166.42,308.50 167.20,308.50 167.98,308.50 168.77,308.50 169.55,308.50 170.33,308.50 171.12,308.50 171.90,308.50 172.68,308.50 173.46,308.50 174.25,308.50 175.03,308.50 175.81,308.50 176.60,308.50 177.38,308.50 178.16,308.50 178.95,308.50 179.73,308.50 180.51,308.50 181.29,308.50 182.08,308.50 182.86,308.50 183.64,308.50 184.43,308.50 185.21,308.50 185.99,308.50 186.78,308.50 187.56,308.50 188.34,308.50 189.12,308.50 189.91,308.50 190.69,308.50 191.47,308.50 192.26,308.50 193.04,308.50 193.82,308.50 194.61,308.50 195.39,308.50 196.17,308.50 196.95,308.50 197.74,308.50 198.52,308.50 199.30,308.50 200.09,308.50 200.87,308.50 201.65,308.50 202.43,308.50 203.22,308.50 204.00,308.50 204.78,308.50 205.57,308.50 206.35,308.50 207.13,308.50 207.92,308.50 208.70,308.50 209.48,308.50 210.26,308.50 211.05,308.50 211.83,308.50 212.61,308.50 213.40,308.50 214.18,308.50 214.96,308.50 215.75,308.50 216.53,308.50 217.31,308.50 218.09,308.50 218.88,308.50 219.66,308.50 220.44,308.50 221.23,308.50 222.01,308.50 222.79,308.50 223.58,308.50 224.36,308.50 225.14,308.50 225.92,308.50 226.71,308.50 227.49,308.50 228.27,308.50 229.06,308.50 229.84,308.50 230.62,308.50 231.40,308.49 232.19,308.49 232.97,308.49 233.75,308.49 234.54,308.49 235.32,308.49 236.10,308.49 236.89,308.49 237.67,308.49 238.45,308.49 239.23,308.48 240.02,308.48 240.80,308.48 241.58,308.48 242.37,308.48 243.15,308.48 243.93,308.47 244.72,308.47 245.50,308.47 246.28,308.46 247.06,308.46 247.85,308.46 248.63,308.45 249.41,308.45 250.20,308.44 250.98,308.44 251.76,308.43 252.55,308.43 253.33,308.42 254.11,308.41 254.89,308.41 255.68,308.40 256.46,308.39 257.24,308.38 258.03,308.37 258.81,308.36 259.59,308.34 260.37,308.33 261.16,308.32 261.94,308.30 262.72,308.29 263.51,308.27 264.29,308.25 265.07,308.23 265.86,308.21 266.64,308.18 267.42,308.16 268.20,308.13 268.99,308.10 269.77,308.07 270.55,308.04 271.34,308.00 272.12,307.96 272.90,307.92 273.69,307.88 274.47,307.83 275.25,307.78 276.03,307.73 276.82,307.67 277.60,307.61 278.38,307.55 279.17,307.48 279.95,307.41 280.73,307.34 281.52,307.26 282.30,307.17 283.08,307.08 283.86,306.99 284.65,306.89 285.43,306.78 286.21,306.67 287.00,306.55 287.78,306.43 288.56,306.30 289.34,306.16 290.13,306.01 290.91,305.86 291.69,305.70 292.48,305.53 293.26,305.35 294.04,305.17 294.83,304.97 295.61,304.77 296.39,304.55 297.17,304.33 297.96,304.10 298.74,303.85 299.52,303.60 300.31,303.33 301.09,303.06 301.87,302.77 302.66,302.47 303.44,302.15 304.22,301.83 305.00,301.49 305.79,301.14 306.57,300.78 307.35,300.40 308.14,300.01 308.92,299.61 309.70,299.19 310.48,298.76 311.27,298.31 312.05,297.85 312.83,297.38 313.62,296.89 314.40,296.39 315.18,295.87 315.97,295.34 316.75,294.79 317.53,294.23 318.31,293.65 319.10,293.06 319.88,292.45 320.66,291.83 321.45,291.20 322.23,290.55 323.01,289.89 323.80,289.22 324.58,288.53 325.36,287.84 326.14,287.12 326.93,286.40 327.71,285.67 328.49,284.92 329.28,284.17 330.06,283.40 330.84,282.63 331.63,281.84 332.41,281.05 333.19,280.25 333.97,279.45 334.76,278.64 335.54,277.82 336.32,277.00 337.11,276.18 337.89,275.35 338.67,274.52 339.45,273.70 340.24,272.87 341.02,272.04 341.80,271.22 342.59,270.40 343.37,269.58 344.15,268.77 344.94,267.96 345.72,267.17 346.50,266.38 347.28,265.60 348.07,264.83 348.85,264.07 349.63,263.33 350.42,262.60 351.20,261.88 351.98,261.18 352.77,260.50 353.55,259.83 354.33,259.19 355.11,258.56 355.90,257.96 356.68,257.38 357.46,256.82 358.25,256.29 359.03,255.77 359.81,255.29 360.60,254.83 361.38,254.40 362.16,254.00 362.94,253.62 363.73,253.28 364.51,252.96 365.29,252.68 366.08,252.42 366.86,252.20 367.64,252.00 368.42,251.84 369.21,251.72 369.99,251.62 370.77,251.56 371.56,251.53 372.34,251.53 373.12,251.56 373.91,251.63 374.69,251.73 375.47,251.86 376.25,252.03 377.04,252.22 377.82,252.45 378.60,252.71 379.39,253.00 380.17,253.32 380.95,253.67 381.74,254.05 382.52,254.45 383.30,254.89 384.08,255.35 384.87,255.84 385.65,256.35 386.43,256.89 387.22,257.45 388.00,258.04 388.78,258.64 389.57,259.27 390.35,259.92 391.13,260.59 391.91,261.27 392.70,261.97 393.48,262.69 394.26,263.42 395.05,264.17 395.83,264.93 396.61,265.70 397.39,266.48 398.18,267.27 398.96,268.07 399.74,268.87 400.53,269.69 401.31,270.50 402.09,271.32 402.88,272.15 403.66,272.98 404.44,273.80 405.22,274.63 406.01,275.46 406.79,276.28 407.57,277.11 408.36,277.93 409.14,278.74 409.92,279.55 410.71,280.36 411.49,281.15 412.27,281.94 413.05,282.73 413.84,283.50 414.62,284.26 415.40,285.02 416.19,285.76 416.97,286.49 417.75,287.22 418.54,287.93 419.32,288.62 420.10,289.31 420.88,289.98 421.67,290.64 422.45,291.28 423.23,291.92 424.02,292.53 424.80,293.14 425.58,293.72 426.36,294.30 427.15,294.86 427.93,295.40 428.71,295.94 429.50,296.45 430.28,296.95 431.06,297.44 431.85,297.91 432.63,298.37 433.41,298.82 434.19,299.25 434.98,299.66 435.76,300.06 436.54,300.45 437.33,300.83 438.11,301.19 438.89,301.54 439.68,301.87 440.46,302.20 441.24,302.51 442.02,302.81 442.81,303.09 443.59,303.37 444.37,303.63 445.16,303.89 445.94,304.13 446.72,304.36 447.51,304.58 448.29,304.79 449.07,305.00 449.85,305.19 450.64,305.38 451.42,305.55 452.20,305.72 452.99,305.88 453.77,306.03 454.55,306.18 455.33,306.31 456.12,306.44 456.90,306.57 457.68,306.68 458.47,306.80 459.25,306.90 460.03,307.00 460.82,307.10 461.60,307.18 462.38,307.27 463.16,307.35 463.95,307.42 464.73,307.49 465.51,307.56 466.30,307.62 467.08,307.68 467.86,307.74 468.65,307.79 469.43,307.84 470.21,307.88 470.99,307.93 471.78,307.97 472.56,308.00 473.34,308.04 474.13,308.07 474.91,308.10 475.69,308.13 476.47,308.16 477.26,308.19 478.04,308.21 478.82,308.23 479.61,308.25 480.39,308.27 481.17,308.29 481.96,308.30 482.74,308.32 483.52,308.33 484.30,308.35 485.09,308.36 485.87,308.37 486.65,308.38 487.44,308.39 488.22,308.40 489.00,308.41 489.79,308.42 490.57,308.42 491.35,308.43 492.13,308.43 492.92,308.44 493.70,308.45 494.48,308.45 495.27,308.45 496.05,308.46 496.83,308.46 497.62,308.47 498.40,308.47 499.18,308.47 499.96,308.47 500.75,308.48 501.53,308.48 502.31,308.48 503.10,308.48 503.88,308.48 504.66,308.49 505.44,308.49 506.23,308.49 507.01,308.49 507.79,308.49 508.58,308.49 509.36,308.49 510.14,308.49 510.93,308.49 511.71,308.49 512.49,308.49 513.27,308.50 514.06,308.50 514.84,308.50 515.62,308.50 516.41,308.50 517.19,308.50 517.97,308.50 518.76,308.50 519.54,308.50 520.32,308.50 521.10,308.50 521.89,308.50 522.67,308.50 523.45,308.50 524.24,308.50 525.02,308.50 525.80,308.50 526.59,308.50 527.37,308.50 528.15,308.50 528.93,308.50 529.72,308.50 530.50,308.50" stroke="#7aa83e"/>
</g>
<g stroke="#8f8f8f" stroke-width="1">
<line x1="92.80" y1="308.5" x2="92.80" y2="303.3"/>
<line x1="136.57" y1="308.5" x2="136.57" y2="303.3"/>
<line x1="180.34" y1="308.5" x2="180.34" y2="303.3"/>
<line x1="224.11" y1="308.5" x2="224.11" y2="303.3"/>
<line x1="267.88" y1="308.5" x2="267.88" y2="303.3"/>
<line x1="311.65" y1="308.5" x2="311.65" y2="303.3"/>
<line x1="355.42" y1="308.5" x2="355.42" y2="303.3"/>
<line x1="399.19" y1="308.5" x2="399.19" y2="303.3"/>
<line x1="442.96" y1="308.5" x2="442.96" y2="303.3"/>
<line x1="486.73" y1="308.5" x2="486.73" y2="303.3"/>
<line x1="79.92" y1="52.5" x2="79.92" y2="57.5"/>
<line x1="120.15" y1="52.5" x2="120.15" y2="57.5"/>
<line x1="165.75" y1="52.5" x2="165.75" y2="57.5"/>
<line x1="217.85" y1="52.5" x2="217.85" y2="57.5"/>
<line x1="277.98" y1="52.5" x2="277.98" y2="57.5"/>
<line x1="348.12" y1="52.5" x2="348.12" y2="57.5"/>
<line x1="431.02" y1="52.5" x2="431.02" y2="57.5"/>
<line x1="62" y1="265.83" x2="67.2" y2="265.83"/>
<line x1="62" y1="223.17" x2="67.2" y2="223.17"/>
<line x1="62" y1="180.50" x2="67.2" y2="180.50"/>
<line x1="62" y1="137.83" x2="67.2" y2="137.83"/>
<line x1="62" y1="95.17" x2="67.2" y2="95.17"/>
</g>
<g class="t">
<text transform="translate(92.80,333.50) scale(1,1.04)" text-anchor="middle">3</text>
<text transform="translate(136.57,333.50) scale(1,1.04)" text-anchor="middle">3.2</text>
<text transform="translate(180.34,333.50) scale(1,1.04)" text-anchor="middle">3.4</text>
<text transform="translate(224.11,333.50) scale(1,1.04)" text-anchor="middle">3.6</text>
<text transform="translate(267.88,333.50) scale(1,1.04)" text-anchor="middle">3.8</text>
<text transform="translate(311.65,333.50) scale(1,1.04)" text-anchor="middle">4</text>
<text transform="translate(355.42,333.50) scale(1,1.04)" text-anchor="middle">4.2</text>
<text transform="translate(399.19,333.50) scale(1,1.04)" text-anchor="middle">4.4</text>
<text transform="translate(442.96,333.50) scale(1,1.04)" text-anchor="middle">4.6</text>
<text transform="translate(486.73,333.50) scale(1,1.04)" text-anchor="middle">4.8</text>
<text transform="translate(530.50,333.50) scale(1,1.04)" text-anchor="middle">5</text>
<text transform="translate(79.92,42.80) scale(1,1.04)" text-anchor="middle">340</text>
<text transform="translate(120.15,42.80) scale(1,1.04)" text-anchor="middle">320</text>
<text transform="translate(165.75,42.80) scale(1,1.04)" text-anchor="middle">300</text>
<text transform="translate(217.85,42.80) scale(1,1.04)" text-anchor="middle">280</text>
<text transform="translate(277.98,42.80) scale(1,1.04)" text-anchor="middle">260</text>
<text transform="translate(348.12,42.80) scale(1,1.04)" text-anchor="middle">240</text>
<text transform="translate(431.02,42.80) scale(1,1.04)" text-anchor="middle">220</text>
<text transform="translate(530.50,42.80) scale(1,1.04)" text-anchor="middle">200</text>
<text transform="translate(56.00,315.70) scale(1,1.04)" text-anchor="end">0</text>
<text transform="translate(56.00,273.03) scale(1,1.04)" text-anchor="end">5</text>
<text transform="translate(56.00,230.37) scale(1,1.04)" text-anchor="end">10</text>
<text transform="translate(56.00,187.70) scale(1,1.04)" text-anchor="end">15</text>
<text transform="translate(56.00,145.03) scale(1,1.04)" text-anchor="end">20</text>
<text transform="translate(56.00,102.37) scale(1,1.04)" text-anchor="end">25</text>
<text transform="translate(56.00,59.70) scale(1,1.04)" text-anchor="end">30</text>
</g>
<text transform="translate(199.00,353.80) scale(1,1.04)">Wavenumber</text>
<text transform="translate(312.30,353.80) scale(1,1.04)">[10</text>
<text transform="translate(337.70,345.30) scale(1,1.04)" style="font-size:12.5px">4</text>
<text transform="translate(350.30,353.80) scale(1,1.04)">cm</text>
<text transform="translate(375.20,345.50) scale(1,1.04)" style="font-size:12.5px">-</text>
<text transform="translate(379.90,345.40) scale(1,1.04)" style="font-size:12.5px">1</text>
<text transform="translate(389.00,353.80) scale(1,1.04)">]</text>
<text transform="translate(228.90,18.60) scale(1,1.04)">Wavelength [nm]</text>
<text transform="translate(26.3,334.2) rotate(-90)" style="font-size:18.6px">Extinction Coefficient [10</text>
<text transform="translate(17.0,128.2) rotate(-90)" style="font-size:12.7px">4</text>
<text transform="translate(26.3,116.9) rotate(-90)" style="font-size:18.6px" textLength="78.50" lengthAdjust="spacing">l/mol*cm]</text>
</svg>
</body></html>
